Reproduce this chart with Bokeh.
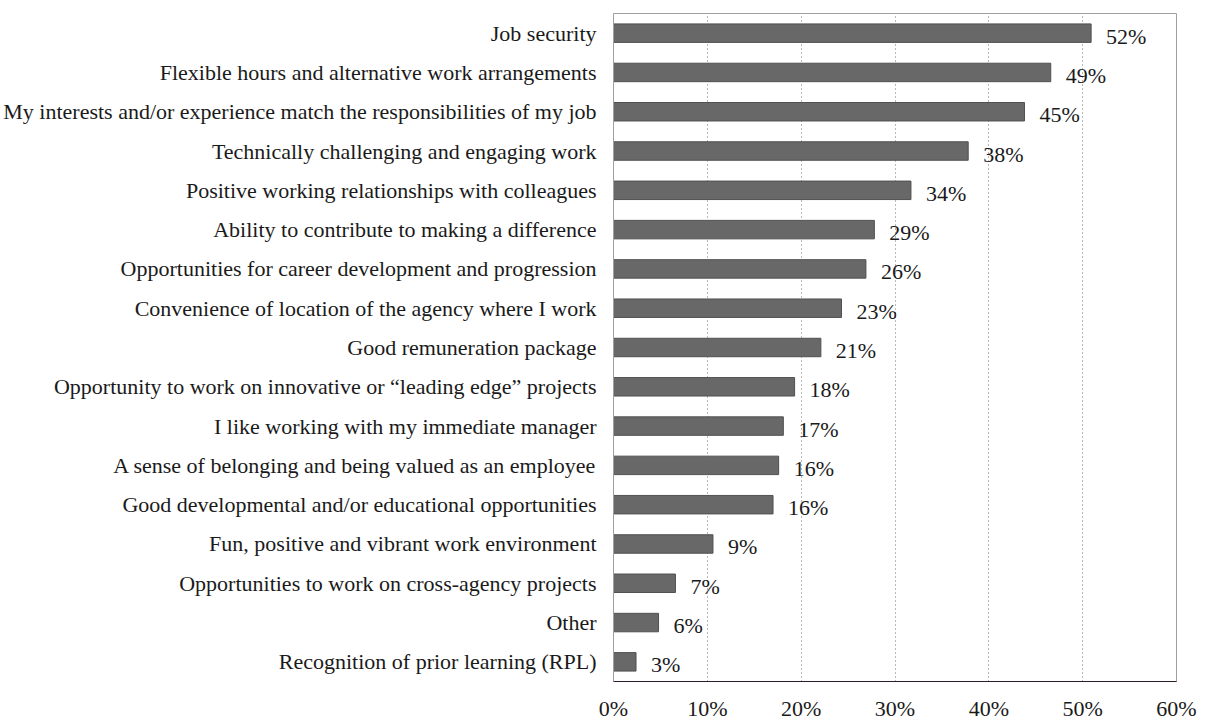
from bokeh.plotting import figure
from bokeh.models import ColumnDataSource, FactorRange, Range1d, FixedTicker
from bokeh.core.properties import value
from bokeh.embed import file_html
from bokeh.resources import INLINE

categories = [
    "Job security",
    "Flexible hours and alternative work arrangements",
    "My interests and/or experience match the responsibilities of my job",
    "Technically challenging and engaging work",
    "Positive working relationships with colleagues",
    "Ability to contribute to making a difference",
    "Opportunities for career development and progression",
    "Convenience of location of the agency where I work",
    "Good remuneration package",
    "Opportunity to work on innovative or \u201cleading edge\u201d projects",
    "I like working with my immediate manager",
    "A sense of belonging and being valued as an employee",
    "Good developmental and/or educational opportunities",
    "Fun, positive and vibrant work environment",
    "Opportunities to work on cross-agency projects",
    "Other",
    "Recognition of prior learning (RPL)",
]
bar_values = [50.9, 46.6, 43.8, 37.8, 31.7, 27.8, 26.9, 24.3, 22.1, 19.3,
              18.1, 17.6, 17.0, 10.6, 6.6, 4.8, 2.4]
value_labels = ["52%", "49%", "45%", "38%", "34%", "29%", "26%", "23%", "21%",
                "18%", "17%", "16%", "16%", "9%", "7%", "6%", "3%"]
tick_values = [0, 10, 20, 30, 40, 50, 60]
tick_labels = ["0%", "10%", "20%", "30%", "40%", "50%", "60%"]

FONT = "Liberation Serif"

src = ColumnDataSource(dict(cat=categories, val=bar_values, lab=value_labels))

p = figure(
    width=1207, height=723,
    y_range=FactorRange(*reversed(categories), range_padding=0),
    x_range=Range1d(0, 60),
    output_backend="svg", toolbar_location=None,
    min_border_left=612, min_border_right=31,
    min_border_top=13, min_border_bottom=35,
)
p.background_fill_color = "white"
p.border_fill_color = "white"
p.outline_line_color = "#a0a0a0"
p.outline_line_width = 1

p.hbar(y="cat", right="val", left=0, height=0.47, source=src,
       fill_color="#686868", line_color="#505050", line_width=1)

p.text(x="val", y="cat", text="lab", source=src, x_offset=15, y_offset=3,
       text_baseline="middle", text_align="left",
       text_font=value(FONT), text_font_size="22px", text_color="#1a1a1a")

# grid
p.ygrid.grid_line_color = None
p.xgrid.ticker = FixedTicker(ticks=tick_values[1:-1])
p.xgrid.grid_line_color = "#707070"
p.xgrid.grid_line_dash = "1 3"
p.xgrid.grid_line_width = 1

# x axis
p.xaxis.ticker = FixedTicker(ticks=tick_values)
p.xaxis.major_label_overrides = {t: l for t, l in zip(tick_values, tick_labels)}
p.xaxis.major_tick_line_color = None
p.xaxis.minor_tick_line_color = None
p.xaxis.axis_line_color = "#2a1a2a"
p.xaxis.axis_line_width = 1
p.xaxis.major_label_text_font = FONT
p.xaxis.major_label_text_font_size = "22px"
p.xaxis.major_label_text_color = "#1a1a1a"
p.xaxis.major_label_standoff = 8

# y axis
p.yaxis.major_tick_line_color = None
p.yaxis.minor_tick_line_color = None
p.yaxis.axis_line_color = "#a0a0a0"
p.yaxis.major_label_text_font = FONT
p.yaxis.major_label_text_font_size = "22px"
p.yaxis.major_label_text_color = "#1a1a1a"
p.yaxis.major_label_standoff = 11

open("out.html", "w").write(file_html(p, INLINE))
